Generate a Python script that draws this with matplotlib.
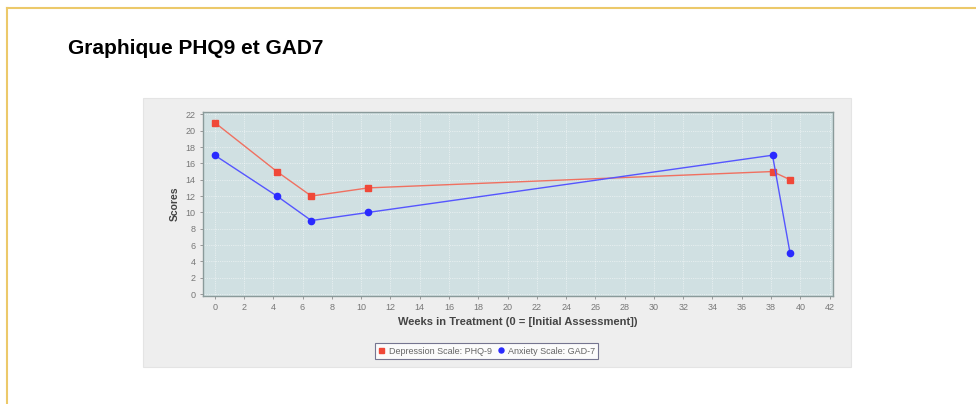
import numpy as np
import matplotlib.pyplot as plt
from matplotlib.patches import Rectangle
from matplotlib.lines import Line2D

# data
weeks = [0, 4.25, 6.6, 10.5, 38.1, 39.3]
phq9 = [21, 15, 12, 13, 15, 14]
gad7 = [17, 12, 9, 10, 17, 5]
xticks = list(range(0, 43, 2))
yticks = list(range(0, 23, 2))

plt.rcParams['font.family'] = ['Liberation Sans', 'DejaVu Sans']

fig = plt.figure(figsize=(9.76, 4.04), dpi=100)
fig.patch.set_facecolor('white')

# gold page border (top and left)
fig.add_artist(Line2D([0.007, 1.0], [0.980, 0.980], color='#ecc96a', lw=1.5))
fig.add_artist(Line2D([0.007, 0.007], [0.0, 0.980], color='#ecc96a', lw=1.5))

fig.text(0.070, 0.88, "Graphique PHQ9 et GAD7", fontsize=15, fontweight='bold', va='center')

# grey chart panel
fig.add_artist(Rectangle((0.1465, 0.092), 0.7255, 0.665, transform=fig.transFigure,
                         facecolor='#eeeeee', edgecolor='#e4e4e4', lw=0.8, zorder=0))

ax = fig.add_axes([0.208, 0.268, 0.645, 0.455])
ax.set_facecolor('#d0e0e2')
ax.plot(weeks, phq9, color='#f07060', lw=1.0, marker='s', ms=4.5,
        markerfacecolor='#f04838', markeredgecolor='#f04838', label='Depression Scale: PHQ-9', zorder=3)
ax.plot(weeks, gad7, color='#5555ff', lw=1.0, marker='o', ms=4.5,
        markerfacecolor='#2a2aff', markeredgecolor='#2a2aff', label='Anxiety Scale: GAD-7', zorder=3)

ax.set_xlim(-0.8, 42.2)
ax.set_ylim(-0.2, 22.3)
ax.set_xticks(xticks)
ax.set_yticks(yticks)
ax.grid(True, color='white', lw=0.5, ls=':', alpha=0.9)
ax.tick_params(labelsize=6.5, colors='#777777', length=2, width=0.5)
for s in ax.spines.values():
    s.set_color('#8a9a9a')
    s.set_linewidth(1.0)

ax.set_xlabel("Weeks in Treatment (0 = [Initial Assessment])", fontsize=8,
              fontweight='bold', color='#444444', labelpad=3)
ax.set_ylabel("Scores", fontsize=7.5, fontweight='bold', color='#444444', labelpad=4)

leg = ax.legend(loc='upper center', bbox_to_anchor=(0.45, -0.235), ncol=2, fontsize=6.5,
                frameon=True, fancybox=False, handlelength=0.8, handletextpad=0.4,
                columnspacing=0.6, borderpad=0.35, markerscale=0.8)
leg.get_frame().set_edgecolor('#555577')
leg.get_frame().set_linewidth(0.8)
leg.get_frame().set_facecolor('white')
for t in leg.get_texts():
    t.set_color('#666666')
for h in leg.legend_handles:
    h.set_linestyle('none')

plt.savefig("out.png", dpi=100)
